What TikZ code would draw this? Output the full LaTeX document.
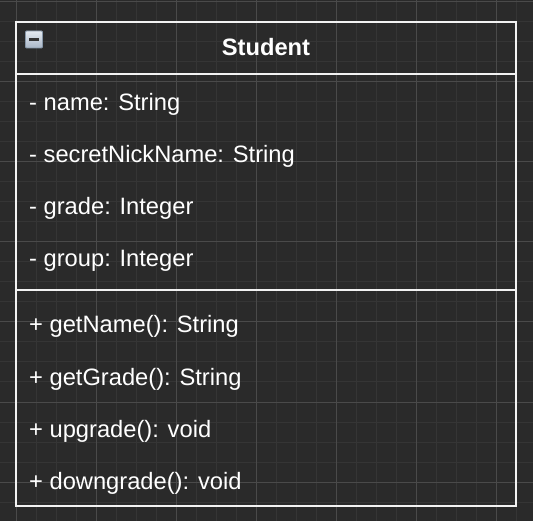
\documentclass[tikz,border=0pt]{standalone}
\usepackage{fontspec}
\setmainfont{Liberation Sans}
\definecolor{bgc}{HTML}{2A2A2A}
\definecolor{minorc}{HTML}{353535}
\definecolor{majorc}{HTML}{4A4A4A}
\definecolor{linec}{HTML}{F2F2F2}
\definecolor{icontop}{HTML}{E4EAF1}
\definecolor{iconbot}{HTML}{A9B6C6}
\definecolor{iconedge}{HTML}{8797A9}
\tikzset{
  member/.style={anchor=base west, inner sep=0pt, text=white, font=\fontsize{23.7}{28}\selectfont},
  title/.style={anchor=base, inner sep=0pt, text=white, font=\fontsize{23.7}{28}\selectfont\bfseries},
  border/.style={draw=linec, line width=2pt},
}
\begin{document}
\begin{tikzpicture}[x=1pt,y=-1pt]
\fill[bgc] (0,0) rectangle (533,521);
\useasboundingbox (0,0) rectangle (533,521);
% minor grid
\foreach \gx in {16,36,...,516} \draw[minorc, line width=1pt] (\gx,0) -- (\gx,521);
\foreach \gy in {2,22,...,502} \draw[minorc, line width=1pt] (0,\gy) -- (533,\gy);
% major grid
\foreach \gx in {16,96,...,496} \draw[majorc, line width=1pt] (\gx,0) -- (\gx,521);
\foreach \gy in {2,82,...,482} \draw[majorc, line width=1pt] (0,\gy) -- (533,\gy);
% class box
\node[border, minimum width=500pt, minimum height=484pt, inner sep=0pt] (cls) at (266,264) {};
\coordinate (hl) at (16,74);
\coordinate (hr) at (516,74);
\coordinate (dl) at (16,290);
\coordinate (dr) at (516,290);
\draw[border] (hl) -- (hr);
\draw[border] (dl) -- (dr);
% collapse icon
\node[draw=iconedge, line width=0.8pt, rounded corners=1pt, top color=icontop, bottom color=iconbot,
      minimum width=17pt, minimum height=17pt, inner sep=0pt] (icon) at (34,39.5) {};
\fill[black!80] ([xshift=-5pt,yshift=-1.3pt]icon.center) rectangle ([xshift=5pt,yshift=1.3pt]icon.center);
% title
\node[title] (ttl) at (266,56) {Student};
% attributes
\node[member] (a1) at (29,111) {- name: String};
\node[member] (a2) at (29,163) {- secretNickName: String};
\node[member] (a3) at (29,215) {- grade: Integer};
\node[member] (a4) at (29,267) {- group: Integer};
% methods
\node[member] (m1) at (29,333) {+ getName(): String};
\node[member] (m2) at (29,385) {+ getGrade(): String};
\node[member] (m3) at (29,437) {+ upgrade(): void};
\node[member] (m4) at (29,489) {+ downgrade(): void};
\end{tikzpicture}
\end{document}
